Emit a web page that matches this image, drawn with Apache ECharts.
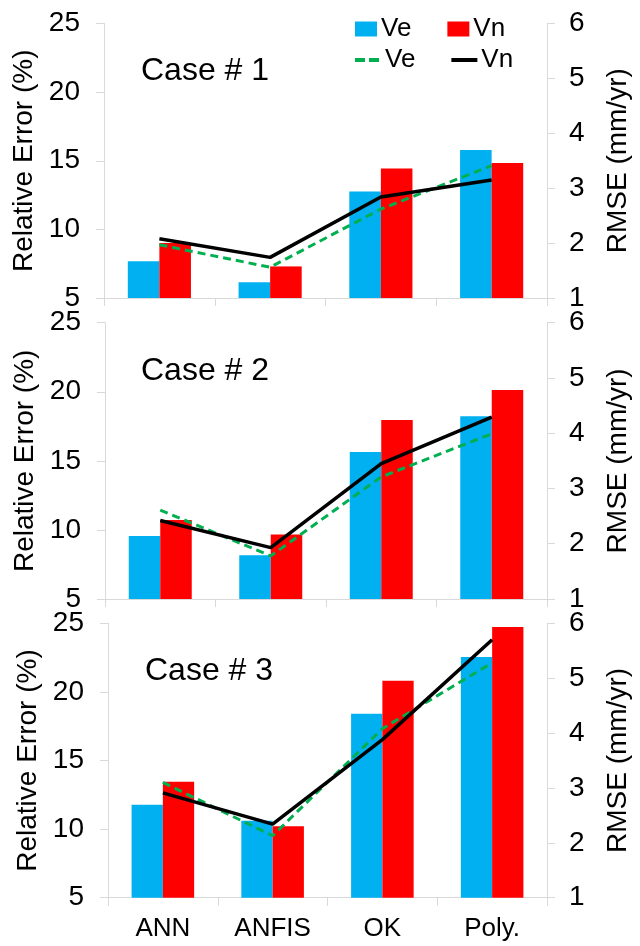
<!DOCTYPE html>
<html>
<head>
<meta charset="utf-8">
<script src="https://cdn.jsdelivr.net/npm/echarts@6/dist/echarts.min.js"></script>
<style>
    html, body { margin: 0; padding: 0; background: #fff; }
    #chart { width: 640px; height: 946px; }
</style>
</head>
<body>
<div id="chart"></div>
<script>
// 数据
const categories = ['ANN', 'ANFIS', 'OK', 'Poly.']
const caseNames = ['Case # 1', 'Case # 2', 'Case # 3']

// Relative Error (%)
const reVe1 = [7.67, 6.14, 12.76, 15.79]
const reVn1 = [9.0, 7.3, 14.43, 14.84]
const reVe2 = [9.56, 8.16, 15.64, 18.22]
const reVn2 = [10.72, 9.66, 17.96, 20.13]
const reVe3 = [11.78, 10.6, 18.41, 22.55]
const reVn3 = [13.46, 10.2, 20.82, 24.73]

// RMSE (mm/yr)
const rmseVe1 = [1.97, 1.56, 2.62, 3.41]
const rmseVn1 = [2.08, 1.74, 2.84, 3.15]
const rmseVe2 = [2.61, 1.78, 3.21, 3.99]
const rmseVn2 = [2.42, 1.93, 3.45, 4.29]
const rmseVe3 = [3.10, 2.13, 4.08, 5.28]
const rmseVn3 = [2.91, 2.34, 3.88, 5.70]

const reData = [[reVe1, reVn1], [reVe2, reVn2], [reVe3, reVn3]]
const rmseData = [[rmseVe1, rmseVn1], [rmseVe2, rmseVn2], [rmseVe3, rmseVn3]]

const FONT = '"Liberation Sans", Arial, sans-serif'
const GRAY = '#d9d9d9'
const BLUE = '#00b0f0'
const RED = '#ff0000'
const GREEN = '#00b050'

const grids = [
    { top: 23.5, height: 274.5, left: 104, right: 87 },
    { top: 322.7, height: 276.3, left: 105, right: 85 },
    { top: 623.3, height: 274.4, left: 108, right: 86 }
]
const caseTitlePos = [[141, 55], [141, 355], [145, 655]]

const axisLine = { show: true, lineStyle: { color: GRAY, width: 1 } }
const axisTick = { show: true, length: 8, lineStyle: { color: GRAY, width: 1 } }

const myChart = echarts.init(document.getElementById('chart'))

const series = []
reData.forEach((pair, i) => {
    const tag = i === 0 ? '' : '#' + i
    series.push({
        name: 'Ve-bar' + tag, type: 'bar', xAxisIndex: i, yAxisIndex: i * 2,
        barWidth: '28.5%', barGap: '0%', itemStyle: { color: BLUE }, data: pair[0]
    })
    series.push({
        name: 'Vn-bar' + tag, type: 'bar', xAxisIndex: i, yAxisIndex: i * 2,
        barWidth: '28.5%', barGap: '0%', itemStyle: { color: RED }, data: pair[1]
    })
    series.push({
        name: 'Ve-line' + tag, type: 'line', xAxisIndex: i, yAxisIndex: i * 2 + 1,
        symbol: 'none', z: 5, lineStyle: { color: GREEN, width: 3, type: [8, 5] },
        itemStyle: { color: GREEN }, data: rmseData[i][0]
    })
    series.push({
        name: 'Vn-line' + tag, type: 'line', xAxisIndex: i, yAxisIndex: i * 2 + 1,
        symbol: 'none', z: 6, lineStyle: { color: '#000', width: 3.5 },
        itemStyle: { color: '#000' }, data: rmseData[i][1]
    })
})

const yAxis = []
grids.forEach((g, i) => {
    yAxis.push({
        gridIndex: i, type: 'value', min: 5, max: 25, interval: 5, position: 'left',
        name: 'Relative Error (%)', nameLocation: 'middle', nameGap: 66,
        nameTextStyle: { fontFamily: FONT, fontSize: 28, color: '#000' },
        axisLine, axisTick,
        axisLabel: { margin: 24, fontFamily: FONT, fontSize: 28, color: '#000' },
        splitLine: { show: false }
    })
    yAxis.push({
        gridIndex: i, type: 'value', min: 1, max: 6, interval: 1, position: 'right',
        name: 'RMSE (mm/yr)', nameLocation: 'middle', nameGap: 57, nameRotate: 90,
        nameTextStyle: { fontFamily: FONT, fontSize: 28, color: '#000' },
        axisLine, axisTick,
        axisLabel: { margin: 22, fontFamily: FONT, fontSize: 28, color: '#000' },
        splitLine: { show: false }
    })
})

const legendText = { fontFamily: FONT, fontSize: 26, color: '#000', padding: [0, 0, 0, -1] }

myChart.setOption({
    animation: false,
    grid: grids,
    title: caseNames.map((t, i) => ({
        text: t, left: caseTitlePos[i][0], top: caseTitlePos[i][1], padding: 0,
        textStyle: { fontFamily: FONT, fontSize: 32, fontWeight: 'normal', color: '#000' }
    })),
    legend: [
        {
            data: [{ name: 'Ve-bar', icon: 'rect' }, { name: 'Vn-bar', icon: 'rect' }],
            left: 355, top: 16, padding: 0, itemWidth: 22, itemHeight: 15, itemGap: 36,
            formatter: name => name.split('-')[0], textStyle: legendText
        },
        {
            data: [
                { name: 'Ve-line', itemStyle: { opacity: 0 }, lineStyle: { width: 4, type: [10, 4] } },
                { name: 'Vn-line', itemStyle: { opacity: 0 }, lineStyle: { width: 4 } }
            ],
            left: 353, top: 47, padding: 0, itemWidth: 26, itemHeight: 15, itemGap: 34,
            formatter: name => name.split('-')[0], textStyle: legendText
        }
    ],
    xAxis: grids.map((g, i) => ({
        gridIndex: i, type: 'category', data: categories,
        axisLine, axisTick,
        axisLabel: {
            show: i === 2, margin: 18, fontFamily: FONT, fontSize: 26, color: '#000'
        }
    })),
    yAxis,
    series
})
</script>
</body>
</html>
